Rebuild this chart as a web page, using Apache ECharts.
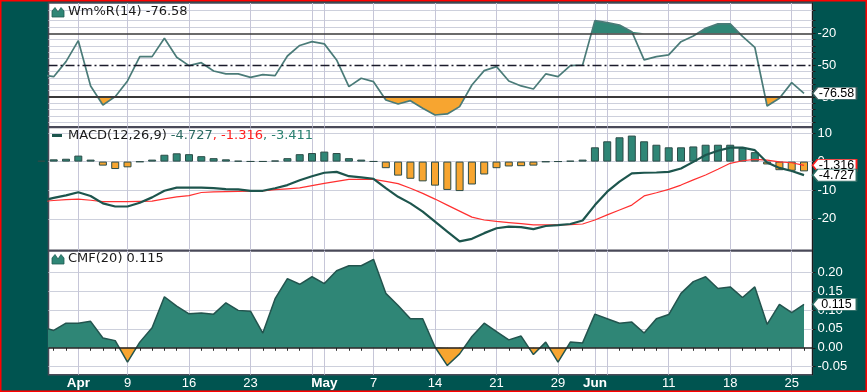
<!DOCTYPE html>
<html><head><meta charset="utf-8">
<script src="https://cdn.jsdelivr.net/npm/echarts@6/dist/echarts.min.js"></script>
<style>html,body{margin:0;padding:0;background:#005450;overflow:hidden}#c{width:867px;height:392px}</style>
</head><body><div id="c"></div>
<script>
// ---------- data ----------
const dates = ['2012-03-28','2012-03-29','2012-03-30','2012-04-02','2012-04-03','2012-04-04','2012-04-05','2012-04-09','2012-04-10','2012-04-11',
'2012-04-12','2012-04-13','2012-04-16','2012-04-17','2012-04-18','2012-04-19','2012-04-20','2012-04-23','2012-04-24','2012-04-25',
'2012-04-26','2012-04-27','2012-04-30','2012-05-01','2012-05-02','2012-05-03','2012-05-04','2012-05-07','2012-05-08','2012-05-09',
'2012-05-10','2012-05-11','2012-05-14','2012-05-15','2012-05-16','2012-05-17','2012-05-18','2012-05-21','2012-05-22','2012-05-23',
'2012-05-24','2012-05-25','2012-05-29','2012-05-30','2012-05-31','2012-06-01','2012-06-04','2012-06-05','2012-06-06','2012-06-07',
'2012-06-08','2012-06-11','2012-06-12','2012-06-13','2012-06-14','2012-06-15','2012-06-18','2012-06-19','2012-06-20','2012-06-21',
'2012-06-22','2012-06-25','2012-06-26'];
const labelDates = ['2012-04-02','2012-04-09','2012-04-16','2012-04-23','2012-05-01','2012-05-07','2012-05-14','2012-05-21','2012-05-29','2012-06-01','2012-06-11','2012-06-18','2012-06-25'];
const labelTexts = ['Apr','9','16','23','May','7','14','21','29','Jun','11','18','25'];
const gridDates = ['2012-04-02','2012-04-09','2012-04-16','2012-04-23','2012-04-30','2012-05-01','2012-05-07','2012-05-14','2012-05-21','2012-05-29','2012-06-01','2012-06-04','2012-06-11','2012-06-18','2012-06-25'];

const wmr = [-59,-60.9,-46.7,-27.0,-69.6,-87.5,-79.7,-64.9,-42,-42,
-24.7,-42.6,-50.5,-47.7,-55.5,-58.3,-58.3,-61.5,-59,-59.9,
-41.4,-31.5,-27.9,-30,-45.1,-70.3,-62.4,-65.6,-82.8,-86.6,
-83.5,-90.6,-97,-96,-89.1,-68.7,-55.2,-51.4,-64.9,-69.6,
-72.5,-58.3,-60.9,-50.5,-49.9,-8.1,-10.0,-12.2,-18.5,-45.1,
-42,-40.4,-27.9,-22.5,-15.3,-11.2,-11.2,-23,-33.2,-88.5,
-81.2,-66.5,-76.58];
const macd = [-13.7,-12.7,-11.8,-10.7,-12.0,-14.6,-15.7,-15.7,-14.4,-12.5,
-10.2,-9.1,-9.1,-9.1,-9.3,-9.6,-9.7,-10.2,-10.2,-9.3,
-8.2,-6.5,-5.1,-3.9,-3.6,-5.1,-5.5,-6.0,-9.3,-12.3,
-14.6,-17.5,-21.0,-24.5,-27.9,-27.0,-25.0,-23.3,-22.7,-22.9,
-23.6,-22.5,-22.2,-21.8,-20.6,-15.2,-10.5,-7.0,-4.1,-3.9,
-3.8,-3.6,-2.4,-0.1,2.3,3.8,4.9,4.9,4.0,-0.3,
-2.2,-3.3,-4.727];
const signal = [-13.9,-13.6,-13.3,-13.1,-13.5,-14.0,-14.0,-14.0,-13.9,-13.8,
-13.0,-12.3,-11.9,-10.8,-10.6,-10.5,-10.4,-10.3,-10.2,-9.8,
-9.5,-9.2,-8.4,-7.6,-6.9,-6.2,-6.2,-6.2,-6.9,-7.7,
-9.3,-11.1,-13.1,-15.2,-17.3,-19.4,-20.4,-20.9,-21.3,-21.7,
-22.1,-22.1,-22.1,-22.0,-21.8,-20.4,-18.6,-16.9,-15.2,-12.0,
-10.9,-9.7,-8.2,-6.4,-4.7,-2.7,-0.6,0.3,0.8,0.5,
-0.1,-0.4,-1.316];
const hist = [0.3,0.8,1.0,2.1,0.7,-1.4,-2.6,-2.0,-0.1,0.7,
2.4,2.9,2.6,1.9,1.2,0.8,0.3,0.1,0.1,0.4,
1.2,2.6,3.0,3.5,3.0,1.2,0.7,0.1,-2.3,-4.9,
-6.0,-6.9,-8.4,-9.9,-10.3,-8.0,-4.5,-2.3,-1.7,-1.6,
-1.4,-0.1,0.05,0.3,0.7,5.0,7.1,8.5,9.1,7.1,
5.9,5.0,5.0,5.3,5.9,5.9,5.9,4.8,3.3,-1.0,
-3.0,-3.2,-3.411];
const cmf = [0.055,0.046,0.065,0.065,0.070,0.026,0.019,-0.038,0.015,0.053,
0.135,0.110,0.090,0.092,0.089,0.119,0.099,0.097,0.039,0.130,
0.183,0.168,0.188,0.170,0.204,0.217,0.217,0.234,0.144,0.112,
0.077,0.077,0.002,-0.047,-0.016,0.030,0.065,0.043,0.021,0.031,
-0.018,0.015,-0.038,0.015,0.013,0.089,0.077,0.065,0.068,0.039,
0.077,0.088,0.144,0.175,0.188,0.157,0.161,0.133,0.161,0.062,
0.115,0.093,0.115];

const wmrLabels = [-20,-50,-80];
const wmrGrid = [2,-8,-14,-26,-32,-38,-44,-56,-62,-68,-74,-86,-92,-98,-104];
const macdLabels = [10,0,-10,-20];
const macdGrid = [10,0,-10,-20];
const cmfLabels = [0.20,0.15,0.10,0.05,0.00,-0.05];
const cmfGrid = [0.20,0.15,0.10,0.05,-0.05];

// ---------- styling ----------
const TEAL = '#2f8676', TEAL_D = '#1f5a52', ORANGE = '#f7a530', BG = '#005450';
const X0 = 0.577, X1 = 62.69;
const xs = dates.map((d, i) => i);
const pts = arr => arr.map((v, i) => [xs[i], v]);
function splitFill(vals, t, above) {
  const out = [];
  for (let i = 0; i < vals.length; i++) {
    const y = vals[i];
    if (i > 0) {
      const y0 = vals[i - 1];
      if ((y0 - t) * (y - t) < 0) {
        const f = (t - y0) / (y - y0);
        out.push([xs[i - 1] + f * (xs[i] - xs[i - 1]), t]);
      }
    }
    out.push([xs[i], above ? Math.max(y, t) : Math.min(y, t)]);
  }
  return out;
}
const gridIdx = gridDates.map(d => dates.indexOf(d));
const labelIdx = labelDates.map(d => dates.indexOf(d));

const grids = [
  {left: 48.5, right: 54.5, top: 3, height: 123.7},
  {left: 48.5, right: 54.5, top: 127.5, height: 122.8},
  {left: 48.5, right: 54.5, top: 251, height: 123.7}
].map(g => Object.assign(g, {show: true, backgroundColor: '#fff', borderColor: '#4a4a58', borderWidth: 1.5}));

function xAx(gi, show) {
  return {type: 'value', gridIndex: gi, min: X0, max: X1,
    splitLine: {show: false}, axisLine: {show: false},
    axisTick: show ? {show: true, customValues: xs.slice(1), length: 3, inside: false, lineStyle: {color: '#2a2a2a'}} : {show: false},
    axisLabel: show ? {show: true, customValues: labelIdx, margin: 2, color: '#fff', fontSize: 13, fontFamily: 'Liberation Sans, Arial',
      formatter: v => { const t = labelTexts[labelIdx.indexOf(Math.round(v))]; return isNaN(Number(t)) ? '{b|' + t + '}' : t; },
      rich: {b: {fontWeight: 'bold', color: '#fff', fontSize: 13.5, fontFamily: 'Liberation Sans, Arial'}}} : {show: false}
  };
}
function yAx(gi, min, max, labels, fmt, ticks) {
  return {type: 'value', gridIndex: gi, position: 'right', min, max,
    splitLine: {show: false},
    axisLine: {show: true, lineStyle: {color: '#1c1c1c', width: 1}},
    axisTick: {show: true, customValues: ticks, length: 3, lineStyle: {color: '#1c1c1c'}},
    axisLabel: {customValues: labels, color: '#fff', fontSize: 13, fontFamily: 'Liberation Sans, Arial', margin: 5, formatter: fmt}
  };
}
function gridLines(gi, hvals) {
  const data = hvals.map(v => ({yAxis: v, lineStyle: {color: '#cdd0dc', width: 1, type: 'solid'}}))
    .concat(gridIdx.map(i => ({xAxis: i, lineStyle: {color: '#c6c6d8', width: 1, type: 'solid'}})));
  return {type: 'line', xAxisIndex: gi, yAxisIndex: gi, data: [], silent: true, z: 1,
    markLine: {silent: true, z: 1, symbol: ['none', 'none'], animation: false, label: {show: false},
      lineStyle: {color: '#cdd0dc', width: 1, type: 'solid'}, data: data}};
}
function flag(gi, value, text, border) {
  return {type: 'line', xAxisIndex: gi, yAxisIndex: gi, data: [], clip: false, silent: true, z: 20,
    markPoint: {silent: true, z: 20, animation: false,
      symbol: 'path://M0,6L5,0L44,0L44,12L5,12Z', symbolSize: [44, 12], symbolKeepAspect: false, symbolOffset: [22, 0],
      itemStyle: {color: '#fff', borderColor: border, borderWidth: 1},
      label: {show: true, position: 'inside', offset: [2, 0], color: '#000', fontSize: 12.5, fontFamily: 'Liberation Sans, Arial', formatter: text},
      data: [{coord: [X1, value]}]}};
}
const fillS = (gi, data, origin, color) => ({type: 'line', xAxisIndex: gi, yAxisIndex: gi, data, showSymbol: false, silent: true, z: 2,
  lineStyle: {width: 0, opacity: 0}, areaStyle: {color, opacity: 1, origin}});

const last = a => a[a.length - 1];
const wLast = last(wmr), mLast = last(macd), sLast = last(signal), hLast = last(hist), cLast = last(cmf);

const option = {
  animation: false,
  backgroundColor: BG,
  grid: grids,
  xAxis: [xAx(0, false), xAx(1, false), xAx(2, true)],
  yAxis: [
    yAx(0, -108, 8.5, wmrLabels, v => String(v), wmrGrid.concat(wmrLabels)),
    yAx(1, -31.0, 11.92, macdLabels, v => String(v), macdGrid),
    yAx(2, -0.0712, 0.2561, cmfLabels, v => v.toFixed(2), cmfLabels)
  ],
  series: [
    gridLines(0, wmrGrid),
    fillS(0, splitFill(wmr, -20, true), -20, TEAL),
    fillS(0, splitFill(wmr, -80, false), -80, ORANGE),
    {type: 'line', xAxisIndex: 0, yAxisIndex: 0, data: pts(wmr), showSymbol: false, z: 3,
      lineStyle: {color: '#4a7b78', width: 1.7},
      markLine: {silent: true, symbol: ['none', 'none'], animation: false, label: {show: false},
        data: [{yAxis: -20, lineStyle: {color: '#3a3a3a', width: 1.5, type: 'solid'}},
               {yAxis: -80, lineStyle: {color: '#3a3a3a', width: 1.8, type: 'solid'}},
               {yAxis: -50, lineStyle: {color: '#1a1a2a', width: 1.4, type: [9, 3, 2, 3]}}]}},
    flag(0, wLast, wLast.toFixed(2), '#3b5b5b'),

    gridLines(1, macdGrid),
    {type: 'bar', xAxisIndex: 1, yAxisIndex: 1, data: pts(hist), barWidth: 8, z: 2,
      itemStyle: {color: p => p.value[1] >= 0 ? TEAL : ORANGE, borderColor: '#2c4c48', borderWidth: 1}},
    {type: 'line', xAxisIndex: 1, yAxisIndex: 1, data: pts(signal), showSymbol: false, z: 3,
      lineStyle: {color: '#ff3030', width: 1.2}},
    {type: 'line', xAxisIndex: 1, yAxisIndex: 1, data: pts(macd), showSymbol: false, z: 4,
      lineStyle: {color: '#1d554d', width: 2.2}},
    flag(1, sLast, sLast.toFixed(3), '#ff2020'),
    flag(1, mLast, mLast.toFixed(3), '#2a6a60'),

    gridLines(2, cmfGrid),
    fillS(2, splitFill(cmf, 0, true), 0, TEAL),
    fillS(2, splitFill(cmf, 0, false), 0, ORANGE),
    {type: 'line', xAxisIndex: 2, yAxisIndex: 2, data: pts(cmf), showSymbol: false, z: 3,
      lineStyle: {color: '#23544e', width: 1.5},
      markLine: {silent: true, symbol: ['none', 'none'], animation: false, label: {show: false},
        data: [{yAxis: 0, lineStyle: {color: '#222', width: 1.5, type: 'solid'}}]}},
    flag(2, cLast, cLast.toFixed(3), '#2a6a60')
  ],
  graphic: [
    {type: 'polygon', shape: {points: [[52, 17], [52, 11], [55, 7.5], [58, 12], [61, 7.5], [64, 11], [64, 17]]}, style: {fill: TEAL, stroke: TEAL_D, lineWidth: 0.8}, z: 30},
    {type: 'text', left: 68, top: 5, z: 30, style: {text: 'Wm%R(14) ' + wLast.toFixed(2), fill: '#1a1a1a', font: '13px "DejaVu Sans"'}},
    {type: 'rect', shape: {x: 52, y: 134, width: 10, height: 3}, style: {fill: '#1d554d'}, z: 30},
    {type: 'text', left: 68, top: 129, z: 30, style: {
      text: '{k|MACD(12,26,9)} {m|' + mLast.toFixed(3) + '}{r|, ' + sLast.toFixed(3) + '}{t|, ' + hLast.toFixed(3) + '}',
      font: '13px "DejaVu Sans"',
      rich: {k: {fill: '#1a1a1a', font: '13px "DejaVu Sans"'}, m: {fill: '#2a6a60', font: '13px "DejaVu Sans"'},
             r: {fill: '#ff2020', font: '13px "DejaVu Sans"'}, t: {fill: '#2a8070', font: '13px "DejaVu Sans"'}}}},
    {type: 'polygon', shape: {points: [[52, 264], [52, 258], [55, 254.5], [58, 259], [61, 254.5], [64, 258], [64, 264]]}, style: {fill: TEAL, stroke: TEAL_D, lineWidth: 0.8}, z: 30},
    {type: 'text', left: 68, top: 252, z: 30, style: {text: 'CMF(20) ' + cLast.toFixed(3), fill: '#1a1a1a', font: '13px "DejaVu Sans"'}},
    {type: 'rect', shape: {x: 0.75, y: 0.75, width: 865.5, height: 390.5}, style: {fill: null, stroke: '#ff0000', lineWidth: 1.5}, z: 40, silent: true}
  ]
};
const chart = echarts.init(document.getElementById('c'), null, {renderer: 'canvas'});
chart.setOption(option);
</script></body></html>
